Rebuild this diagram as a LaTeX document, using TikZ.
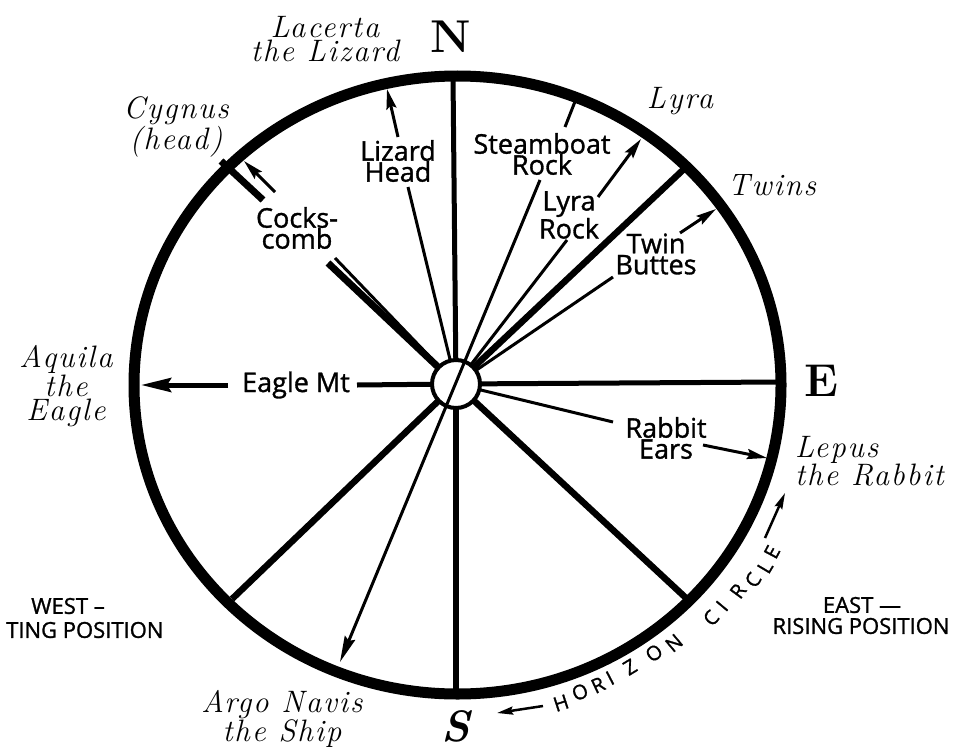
\documentclass[tikz,border=0pt]{standalone}
\usepackage{fontspec}
\setsansfont{Open Sans}
\newfontfamily\heavysans{Open Sans}[FakeBold=1.2]
\newfontfamily\constfont{Latin Modern Roman}[LetterSpace=6]
\usetikzlibrary{arrows.meta}
\begin{document}
\begin{tikzpicture}[x=1pt,y=-1pt,
  ring/.style={line width=11pt},
  spoke/.style={line width=6.5pt},
  thinline/.style={line width=3pt},
  tiparrow/.style={-{Stealth[length=20pt,width=10pt,inset=3pt]}},
  bigarrow/.style={-{Stealth[length=30pt,width=14pt,inset=4pt]}},
  hzarrow/.style={line width=2.5pt,-{Stealth[length=16pt,width=8pt,inset=2pt]}},
  lm/.style={font=\heavysans\fontsize{27}{21}\selectfont, align=center, inner sep=0pt},
  const/.style={font=\constfont\itshape\fontsize{31}{24}\selectfont, align=center, inner sep=0pt},
  capslbl/.style={font=\heavysans\fontsize{22}{22}\selectfont, align=center, inner sep=0pt},
  cardinal/.style={font=\rmfamily\bfseries\fontsize{46}{46}\selectfont, inner sep=0pt},
  hz/.style={font=\heavysans\fontsize{20}{20}\selectfont, inner sep=0pt},
]
\useasboundingbox (0,0) rectangle (957,749);
\fill[white] (0,0) rectangle (957,749);

% hub centre and end points
\coordinate (C) at (456,384);
\coordinate (nEnd) at (453,76);
\coordinate (sEnd) at (456,694);
\coordinate (eEnd) at (781,382);
\coordinate (neEnd) at (684,169);
\coordinate (seEnd) at (686,598);
\coordinate (swEnd) at (232,599);
\coordinate (nwA) at (328,263);
\coordinate (nwB) at (263,200);
\coordinate (nwEnd) at (221,161);
\coordinate (cygA) at (335,258);
\coordinate (cygB) at (275,192);
\coordinate (cygTip) at (244,161);
\coordinate (eagleA) at (357,385);
\coordinate (eagleB) at (228,385);
\coordinate (eagleTip) at (141,385);
\coordinate (lizA) at (408,187);
\coordinate (lizB) at (398,137);
\coordinate (lizTip) at (387,89);
\coordinate (sbA) at (540,180);
\coordinate (sbB) at (565,127);
\coordinate (sbEnd) at (576,99);
\coordinate (argoTip) at (340,662);
\coordinate (lyA) at (567,240);
\coordinate (lyB) at (598,197);
\coordinate (lyTip) at (641,139);
\coordinate (twA) at (613,277);
\coordinate (twB) at (680,233);
\coordinate (twTip) at (716,209);
\coordinate (rbA) at (613,422);
\coordinate (rbB) at (703,445);
\coordinate (rbTip) at (767,458);
\coordinate (hzLA) at (543,706);
\coordinate (hzLTip) at (497,713);
\coordinate (hzRA) at (765,538);
\coordinate (hzRTip) at (785,493);

% horizon circle
\draw[ring] (457.5,385) ellipse [x radius=323.5, y radius=309];

% thick spokes
\draw[line width=5pt] (C) -- (nEnd);
\draw[spoke] (C) -- (sEnd);
\draw[line width=5pt] (C) -- (eEnd);
\draw[spoke] (C) -- (neEnd);
\draw[spoke] (C) -- (seEnd);
\draw[spoke] (C) -- (swEnd);
\draw[line width=7pt] (C) -- (nwA);
\draw[line width=7pt] (nwB) -- (nwEnd);

% thin sight lines
\draw[thinline] (C) -- (cygA);
\draw[thinline,tiparrow] (cygB) -- (cygTip);
\draw[line width=5pt] (C) -- (eagleA);
\draw[line width=5pt,bigarrow] (eagleB) -- (eagleTip);
\draw[thinline] (C) -- (lizA);
\draw[thinline,tiparrow] (lizB) -- (lizTip);
\draw[thinline] (sbB) -- (sbEnd);
\draw[thinline] (C) -- (lyA);
\draw[thinline,tiparrow] (lyB) -- (lyTip);
\draw[thinline] (C) -- (twA);
\draw[thinline,tiparrow] (twB) -- (twTip);
\draw[thinline] (C) -- (rbA);
\draw[thinline,tiparrow] (rbB) -- (rbTip);

% hub
\node[circle, draw, line width=4pt, fill=white, minimum size=48pt, inner sep=0pt] (hub) at (C) {};
% Steamboat Rock -- Argo Navis line through the hub
\draw[thinline,-{Stealth[length=26pt,width=11pt,inset=3pt]}] (sbA) -- (argoTip);

% horizon arrows
\draw[hzarrow] (hzLA) -- (hzLTip);
\draw[hzarrow] (hzRA) -- (hzRTip);

% landmark labels
\node[lm] (lizlbl) at (398,161) {Lizard\\Head};
\node[lm] (sblbl) at (542,154) {Steamboat\\Rock};
\node[lm] (lylbl) at (569,215) {Lyra\\Rock};
\node[lm] (twlbl) at (656,254) {Twin\\Buttes};
\node[lm] (cocklbl) at (297,228) {Cocks-\\comb};
\node[lm] (eaglelbl) at (296,385) {Eagle Mt};
\node[lm] (rblbl) at (666,438) {Rabbit\\Ears};

% constellation labels
\node[const] (lacerta) at (325,39) {Lacerta\\the Lizard};
\node[const] (cygnus) at (176,127) {Cygnus\\(head)};
\node[const] (aquila) at (66,386) {Aquila\\the\\Eagle};
\node[const] (lyra) at (680,101) {Lyra};
\node[const] (twins) at (772,185) {Twins};
\node[const, align=left, anchor=west] (lepus) at (795,461) {Lepus\\the Rabbit};
\node[const] (argo) at (282,719) {Argo Navis\\the Ship};

% cardinal points
\node[cardinal] (N) at (451,37) {N};
\node[cardinal] (E) at (821,381) {E};
\node[cardinal, font=\rmfamily\bfseries\itshape\fontsize{44}{44}\selectfont] (S) at (456,726) {S};

% position labels
\node[capslbl] (west) at (68,606) {WEST –};
\node[capslbl, anchor=west] (setting) at (6,630) {TING POSITION};
\node[capslbl] (east) at (862,605) {EAST —};
\node[capslbl] (rising) at (861,626) {RISING POSITION};

% HORIZON CIRCLE lettering
\foreach \ch/\px/\py/\rot in {H/561/703/18.1, O/580/692/21.8, R/598/685/25.2, I/610/678/27.6, Z/630/667/31.5, O/654/653/36.3, N/674/643/40.1, C/711/618/47.5, I/722/606/50.2, R/738/591/53.8, C/753/580/56.6, L/765/567/59.4, E/772/552/62.1}
  \node[hz, rotate=\rot] at (\px,\py) {\ch};
\end{tikzpicture}
\end{document}
